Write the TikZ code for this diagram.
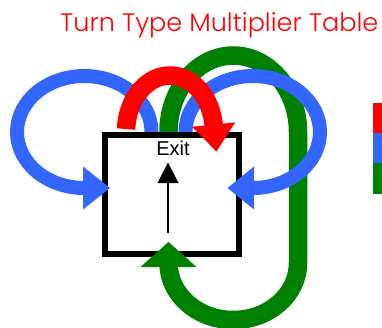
\documentclass[tikz,border=0pt]{standalone}
\usepackage{fontspec}
\setmainfont{Liberation Sans}
\newfontfamily\titlefont{Poppins Light}
\usetikzlibrary{calc}
\definecolor{tred}{RGB}{255,0,0}
\definecolor{tblue}{RGB}{51,102,255}
\definecolor{tgreen}{RGB}{0,128,0}
\begin{document}
\begin{tikzpicture}[x=1pt,y=1pt,
  bluestroke/.style={draw=tblue,line width=14pt,line cap=butt},
  greenstroke/.style={draw=tgreen,line width=18.5pt,line cap=butt},
  redstroke/.style={draw=tred,line width=18.5pt,line cap=butt},
  headfill/.style={fill=#1,draw=none},
  legendbox/.style={fill=#1,draw=none}]
\useasboundingbox (0,0) rectangle (382,327);
% left blue loop
\draw[bluestroke] (151.5,192.5) -- (151.5,195)
  arc[start angle=0,end angle=270,x radius=67.25,y radius=56] -- (86,139);
% green loop
\draw[greenstroke] (168.5,192.5) -- (168.5,195)
  arc[start angle=180,end angle=0,x radius=64.75,y radius=76.5] -- (298,64)
  arc[start angle=0,end angle=-180,x radius=64.75,y radius=57];
% right blue loop
\draw[bluestroke] (185.5,192.5) -- (185.5,195)
  arc[start angle=180,end angle=-90,x radius=67.25,y radius=56] -- (251,139);
% box
\draw[line width=6pt] (104.7,73.5) rectangle (239,192.5);
% arrow heads
\fill[headfill=tblue] (83,160.5) -- (83,117.5) -- (110,139) -- cycle;
\fill[headfill=tblue] (254,160.5) -- (254,117.5) -- (227.5,139) -- cycle;
\fill[headfill=tgreen] (140.5,60) -- (196.5,60) -- (168.5,85) -- cycle;
% red turn
\draw[redstroke] (126.06,197.96)
  arc[start angle=177,end angle=6,x radius=44,y radius=56.5];
\fill[headfill=tred] (235.2,204.6) -- (192.0,200.2) -- (216.4,175.5) -- cycle;
% exit arrow
\coordinate (exitfoot) at (168,94);
\coordinate (exithead) at (168,146);
\draw[line width=1.6pt] (exitfoot) -- (exithead);
\fill[headfill=black] (157.5,144) -- (178.5,144) -- (168,164.5) -- cycle;
\node[anchor=base,inner sep=0pt,font=\fontsize{20}{20}\selectfont] (exitlabel) at (173,172) {Exit};
% title
\node[anchor=base west,inner sep=0pt,text=tred] (title) at (60,295.3)
  {\resizebox{318pt}{19pt}{\titlefont Turn Type Multiplier Table}};
% legend
\fill[legendbox=tred] (373,194) rectangle (382,224);
\fill[legendbox=tblue] (373,164) rectangle (382,194);
\fill[legendbox=tgreen] (373,133) rectangle (382,164);
\end{tikzpicture}
\end{document}
